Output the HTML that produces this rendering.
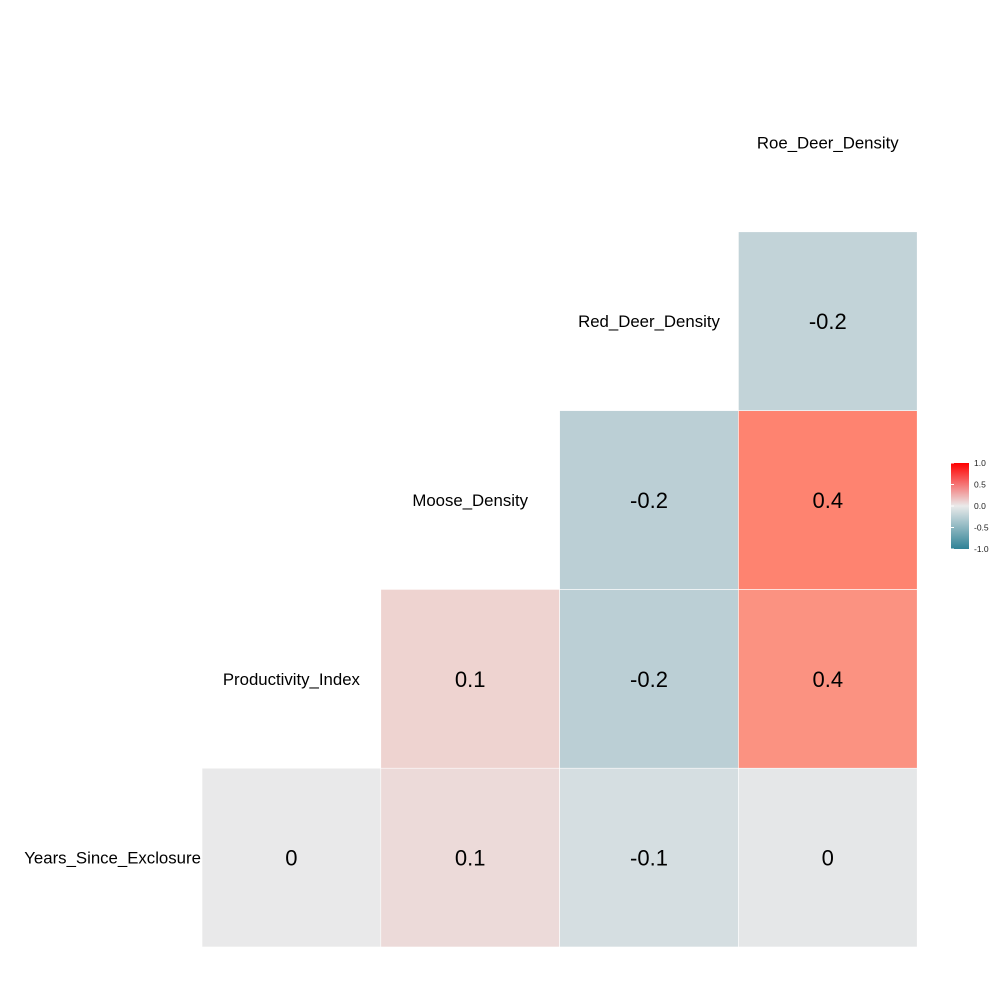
<!DOCTYPE html>
<html><head><meta charset="utf-8"><style>
body{margin:0;background:#fff;font-family:"Liberation Sans",sans-serif}
</style></head><body>
<svg width="1000" height="1000" xmlns="http://www.w3.org/2000/svg">
<defs><linearGradient id="lg" x1="0" y1="1" x2="0" y2="0">
<stop offset="0" stop-color="#2f8296"/><stop offset="0.5" stop-color="#eaeaea"/><stop offset="1" stop-color="#ff0000"/></linearGradient></defs>
<g id="cells"></g><g id="diag"></g>
<g>
<rect x="951" y="463" width="18" height="86" fill="url(#lg)"/>
<g id="legend-ticks" font-size="8.5" fill="#222"></g>
</g>
</svg>
<script>
const variables = ["Years_Since_Exclosure","Productivity_Index","Moose_Density","Red_Deer_Density","Roe_Deer_Density"];
// rows from bottom; row r holds columns r..3
const corrRow0 = [0.0, 0.06, -0.11, -0.02];
const corrRow1 = [0.09, -0.25, 0.36];
const corrRow2 = [-0.25, 0.42];
const corrRow3 = [-0.21];
const legendTicks = [1.0, 0.5, 0.0, -0.5, -1.0];
const x0=202, cs=178.8, yBottom=947;
const mid=[233,233,234], hi=[283,-9,-57], lo=[47,130,150];
function color(v){const t=Math.min(1,Math.abs(v));const e=v>=0?hi:lo;
return 'rgb('+mid.map((m,k)=>Math.max(0,Math.min(255,Math.round(m+(e[k]-m)*t)))).join(',')+')';}
const ns="http://www.w3.org/2000/svg";
const cells=document.getElementById('cells'), diag=document.getElementById('diag');
const rowsData=[corrRow0,corrRow1,corrRow2,corrRow3];
rowsData.forEach((row,r)=>{row.forEach((v,k)=>{
 const c=r+k;
 const x=x0+c*cs, y=yBottom-(r+1)*cs;
 const rect=document.createElementNS(ns,'rect');
 rect.setAttribute('x',x);rect.setAttribute('y',y);rect.setAttribute('width',cs);rect.setAttribute('height',cs);
 rect.setAttribute('fill',color(v));rect.setAttribute('stroke','#ffffff');rect.setAttribute('stroke-width','0.6');
 
 
 cells.appendChild(rect);
 const tx=document.createElementNS(ns,'text');
 tx.setAttribute('x',x+cs/2);tx.setAttribute('y',y+cs/2+8);tx.setAttribute('text-anchor','middle');tx.setAttribute('font-size','22');
 const lab=Math.round(v*10)/10;tx.textContent=(lab===0?'0':String(lab));
 
 
 cells.appendChild(tx);
});});
variables.forEach((n,i)=>{const t=document.createElementNS(ns,'text');
 t.setAttribute('x',x0+(i-0.5)*cs);t.setAttribute('y',yBottom-(i+0.5)*cs+6);t.setAttribute('text-anchor','middle');t.setAttribute('font-size','16.8');
 t.textContent=n;
 
 
 diag.appendChild(t);});
const lt=document.getElementById('legend-ticks');
legendTicks.forEach(v=>{const y=506-v*43;const t=document.createElementNS(ns,'text');
 t.setAttribute('x',974);t.setAttribute('y',y+3);t.textContent=v.toFixed(1);
 
 
 lt.appendChild(t);
 const l=document.createElementNS(ns,'line');l.setAttribute('x1',951);l.setAttribute('x2',954);l.setAttribute('y1',y);l.setAttribute('y2',y);l.setAttribute('stroke','#fff');
 
 
 lt.appendChild(l);});
</script>
</body></html>
